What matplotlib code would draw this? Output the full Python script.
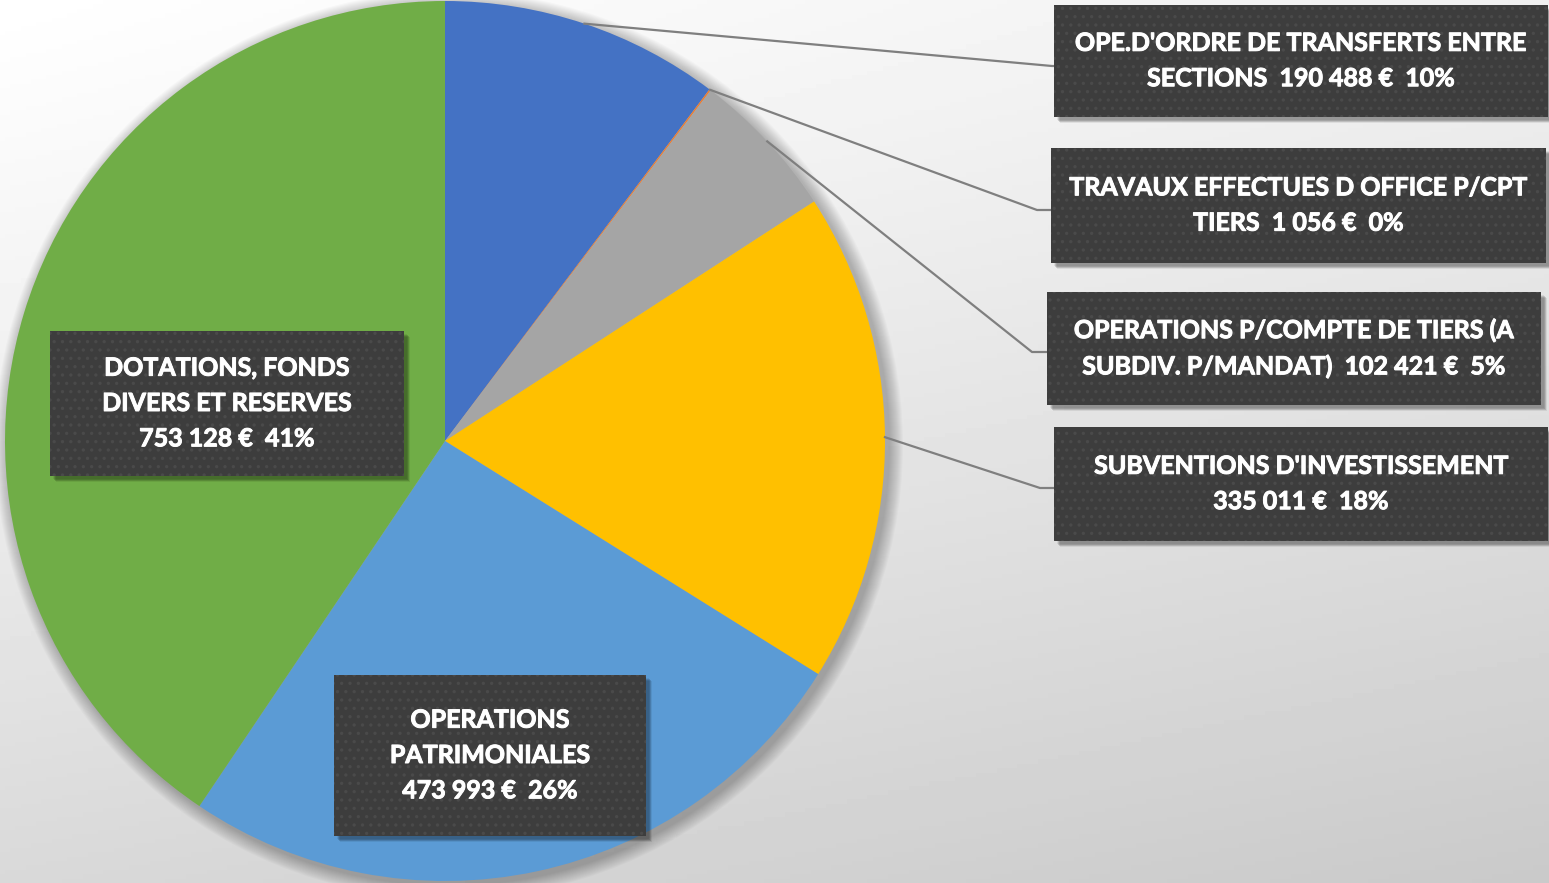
import numpy as np
import matplotlib.pyplot as plt
import matplotlib.patheffects as pe
from matplotlib.patches import Rectangle, Circle

plt.rcParams['hatch.linewidth'] = 1.2

# data
labels = ["OPE.D'ORDRE DE TRANSFERTS ENTRE\nSECTIONS", "TRAVAUX EFFECTUES D OFFICE P/CPT\nTIERS",
          "OPERATIONS P/COMPTE DE TIERS (A\nSUBDIV. P/MANDAT)", "SUBVENTIONS D'INVESTISSEMENT\n",
          "OPERATIONS\nPATRIMONIALES\n", "DOTATIONS, FONDS\nDIVERS ET RESERVES\n"]
values = [190488, 1056, 102421, 335011, 473993, 753128]
percents = [10, 0, 5, 18, 26, 41]
colors = ["#4472C4", "#ED7D31", "#A5A5A5", "#FFC000", "#5B9BD5", "#70AD47"]

W, H = 1549, 883
fig = plt.figure(figsize=(W / 100, H / 100), dpi=100)
ax = fig.add_axes([0, 0, 1, 1])

# fond en degrade (blanc en haut a gauche -> gris en bas a droite)
xx, yy = np.meshgrid(np.linspace(0, 1, 300), np.linspace(0, 1, 200))
bg = 1 - 0.15 * yy ** 1.1 - 0.06 * xx
ax.imshow(bg, extent=[0, W, 0, H], origin="upper", cmap="gray", vmin=0, vmax=1,
          aspect="auto", zorder=0)

cx, cy, R = 445, H - 441, 440

# ombre douce sous le camembert
for i in range(14):
    ax.add_patch(Circle((cx + 4, cy - 4), R + 14 - i, color="black", alpha=0.018, lw=0, zorder=1))

wedges, _ = ax.pie(values, colors=colors, startangle=90, counterclock=False, radius=R,
                   center=(cx, cy), frame=True, wedgeprops=dict(linewidth=0))
for w in wedges:
    w.set_zorder(2)
ax.set_xlim(0, W)
ax.set_ylim(0, H)
ax.axis("off")


def fmt(v):
    return f"{v:,}".replace(",", " ")


def box(x0, y0, x1, y1, text):
    # y en pixels depuis le haut
    for k in range(6):
        ax.add_patch(Rectangle((x0 + 3 + k * 0.6, H - y1 - 3 - k * 0.6), x1 - x0, y1 - y0,
                               color="black", alpha=0.07, lw=0, zorder=4))
    ax.add_patch(Rectangle((x0, H - y1), x1 - x0, y1 - y0, facecolor="#3d3d3d",
                           edgecolor="#4a4a4a", hatch="..", lw=0, zorder=5))
    ax.text((x0 + x1) / 2, H - (y0 + y1) / 2, text, color="white", fontsize=18,
            fontweight="bold", family="Lato", ha="center", va="center",
            linespacing=1.65, zorder=6,
            path_effects=[pe.withStroke(linewidth=0.7, foreground="white")])


texts = []
for lab, v, p in zip(labels, values, percents):
    sep = "" if lab.endswith("\n") else "  "
    texts.append(f"{lab}{sep}{fmt(v)} €  {p}%")

# etiquettes a droite avec lignes de rappel
right_boxes = [(1054, 5, 1548, 117), (1051, 148, 1546, 263),
               (1047, 292, 1541, 405), (1054, 427, 1548, 541)]
elbows = [(1052, 66), (1037, 210), (1032, 352), (1040, 488)]

total = sum(values)
start = 90.0
mids = []
for v in values:
    span = v / total * 360
    mids.append(start - span / 2)
    start -= span

for i in range(4):
    a = np.radians(mids[i])
    px, py = cx + R * np.cos(a), cy + R * np.sin(a)
    ex, ey = elbows[i]
    bx0 = right_boxes[i][0]
    ax.plot([px, ex, bx0], [py, H - ey, H - ey], color="#7f7f7f", lw=1.6, zorder=3)
    box(*right_boxes[i], texts[i])

box(334, 675, 646, 836, texts[4])
box(50, 331, 404, 476, texts[5])

fig.savefig("out.png", dpi=100)
